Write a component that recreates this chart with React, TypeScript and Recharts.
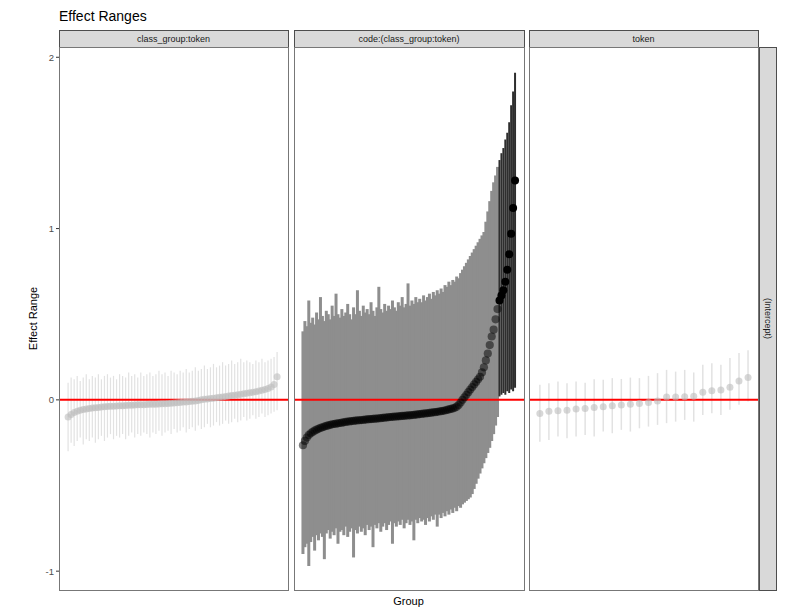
import { ScatterChart, Scatter, XAxis, YAxis, ErrorBar, ReferenceLine } from "recharts";

const FONT = '"Liberation Sans", Arial, sans-serif';

// shared y scale for all three facets
const yTicks = [-1, 0, 1, 2];
const yDomain = [-1.11, 2.06];

const facetLabels = ["class_group:token", "code:(class_group:token)", "token"];
const rowLabel = "(Intercept)";

// class_group:token
const classGroupEst = [
  -0.1, -0.085, -0.074, -0.066, -0.06, -0.056, -0.053, -0.05, -0.048, -0.046,
  -0.044, -0.042, -0.04, -0.039, -0.038, -0.037, -0.036, -0.035, -0.034, -0.033,
  -0.032, -0.031, -0.03, -0.029, -0.029, -0.028, -0.027, -0.026, -0.025, -0.025,
  -0.024, -0.023, -0.022, -0.021, -0.02, -0.018, -0.017, -0.015, -0.013, -0.012,
  -0.01, -0.008, -0.006, -0.003, 0.0, 0.003, 0.005, 0.008, 0.01, 0.012,
  0.015, 0.017, 0.019, 0.022, 0.025, 0.027, 0.03, 0.033, 0.035, 0.038,
  0.041, 0.045, 0.048, 0.052, 0.056, 0.061, 0.067, 0.075, 0.09, 0.135,
];
const classGroupHi = [
  0.1, 0.13, 0.12, 0.14, 0.11, 0.13, 0.15, 0.12, 0.14, 0.13,
  0.15, 0.12, 0.14, 0.15, 0.13, 0.14, 0.12, 0.15, 0.14, 0.13,
  0.16, 0.14, 0.15, 0.13, 0.16, 0.14, 0.15, 0.16, 0.14, 0.15,
  0.17, 0.15, 0.16, 0.14, 0.17, 0.16, 0.15, 0.17, 0.16, 0.18,
  0.16, 0.17, 0.19, 0.17, 0.18, 0.2, 0.18, 0.19, 0.21, 0.19,
  0.2, 0.22, 0.2, 0.21, 0.23, 0.21, 0.22, 0.24, 0.22, 0.23,
  0.22, 0.21, 0.23, 0.22, 0.24, 0.22, 0.23, 0.24, 0.25, 0.28,
];
const classGroupLo = [
  -0.3, -0.25, -0.27, -0.24, -0.22, -0.26, -0.23, -0.24, -0.22, -0.25,
  -0.23, -0.21, -0.24, -0.22, -0.2, -0.23, -0.21, -0.22, -0.2, -0.23,
  -0.21, -0.19, -0.22, -0.2, -0.21, -0.19, -0.2, -0.22, -0.19, -0.2,
  -0.18, -0.21, -0.19, -0.18, -0.2, -0.17, -0.19, -0.18, -0.16, -0.19,
  -0.17, -0.16, -0.18, -0.15, -0.17, -0.16, -0.14, -0.16, -0.15, -0.13,
  -0.15, -0.14, -0.12, -0.14, -0.13, -0.11, -0.13, -0.12, -0.1, -0.12,
  -0.11, -0.09, -0.11, -0.1, -0.08, -0.1, -0.09, -0.08, -0.07, -0.06,
];

// code:(class_group:token)
const codeEst = [
  -0.265, -0.24, -0.22, -0.205, -0.195, -0.187, -0.18, -0.174, -0.169, -0.164,
  -0.16, -0.156, -0.152, -0.149, -0.146, -0.143, -0.141, -0.139, -0.137, -0.135,
  -0.133, -0.131, -0.129, -0.127, -0.126, -0.124, -0.123, -0.121, -0.12, -0.119,
  -0.118, -0.117, -0.115, -0.114, -0.113, -0.112, -0.111, -0.11, -0.109, -0.108,
  -0.107, -0.105, -0.104, -0.103, -0.101, -0.1, -0.099, -0.098, -0.097, -0.096,
  -0.095, -0.094, -0.093, -0.092, -0.091, -0.09, -0.089, -0.088, -0.086, -0.085,
  -0.083, -0.082, -0.08, -0.079, -0.078, -0.076, -0.075, -0.073, -0.072, -0.07,
  -0.068, -0.066, -0.064, -0.062, -0.059, -0.056, -0.053, -0.05, -0.046, -0.04,
  -0.03, -0.016, 0.0, 0.015, 0.03, 0.045, 0.06, 0.075, 0.09, 0.105,
  0.12, 0.135, 0.16, 0.19, 0.23, 0.27, 0.32, 0.37, 0.41, 0.47,
  0.53, 0.58, 0.61, 0.64, 0.69, 0.76, 0.85, 0.97, 1.12, 1.28,
];
const codeHi = [
  0.4, 0.46, 0.43, 0.58, 0.45, 0.48, 0.44, 0.51, 0.47, 0.6,
  0.49, 0.46, 0.52, 0.5, 0.47, 0.55, 0.49, 0.62, 0.5, 0.48,
  0.53, 0.49, 0.51, 0.56, 0.5, 0.47, 0.54, 0.5, 0.64, 0.52,
  0.49, 0.55, 0.51, 0.53, 0.5, 0.57, 0.52, 0.49, 0.54, 0.66,
  0.53, 0.51, 0.56, 0.52, 0.55, 0.53, 0.58, 0.54, 0.52, 0.57,
  0.55, 0.6, 0.54, 0.56, 0.68, 0.55, 0.58, 0.56, 0.6, 0.57,
  0.59, 0.57, 0.61, 0.58, 0.6, 0.62, 0.59, 0.63, 0.61, 0.64,
  0.62, 0.65, 0.63, 0.67, 0.66, 0.69, 0.67, 0.7, 0.69, 0.72,
  0.71, 0.74, 0.76, 0.78, 0.8, 0.82, 0.84, 0.86, 0.88, 0.9,
  0.92, 0.94, 0.96, 0.98, 1.04, 1.1, 1.16, 1.22, 1.27, 1.31,
  1.36, 1.4, 1.44, 1.47, 1.52, 1.56, 1.62, 1.72, 1.8, 1.91,
];
const codeLo = [
  -0.9, -0.86, -0.84, -0.97, -0.83, -0.8, -0.88, -0.79, -0.82, -0.78,
  -0.8, -0.93, -0.78, -0.76, -0.81, -0.77, -0.79, -0.75, -0.84, -0.77,
  -0.76, -0.79, -0.74, -0.8, -0.77, -0.75, -0.92, -0.76, -0.78, -0.74,
  -0.77, -0.75, -0.79, -0.73, -0.76, -0.74, -0.86, -0.73, -0.75, -0.72,
  -0.77, -0.74, -0.72, -0.76, -0.73, -0.71, -0.84, -0.72, -0.74, -0.71,
  -0.73, -0.7, -0.75, -0.72, -0.7, -0.73, -0.71, -0.82, -0.7, -0.72,
  -0.69, -0.71, -0.7, -0.73, -0.69, -0.71, -0.68, -0.7, -0.67, -0.74,
  -0.67, -0.69, -0.66, -0.68, -0.65, -0.67, -0.64, -0.66, -0.63, -0.65,
  -0.62, -0.63, -0.61, -0.6, -0.59, -0.58, -0.57, -0.55, -0.52, -0.49,
  -0.46, -0.43, -0.4, -0.37, -0.34, -0.31, -0.28, -0.24, -0.2, -0.15,
  -0.1, 0.02, 0.03, 0.04, 0.03, 0.05, 0.04, 0.06, 0.05, 0.07,
];

// token
const tokenEst = [
  -0.08, -0.066, -0.064, -0.061, -0.053, -0.05, -0.044, -0.04, -0.034, -0.03, -0.026, -0.021,
  -0.016, -0.006, 0.016, 0.017, 0.018, 0.021, 0.045, 0.053, 0.058, 0.074, 0.11, 0.13,
];
const tokenHi = [
  0.088, 0.097, 0.107, 0.097, 0.107, 0.1, 0.12, 0.118, 0.127, 0.122, 0.13, 0.127,
  0.14, 0.156, 0.175, 0.165, 0.175, 0.16, 0.205, 0.214, 0.205, 0.244, 0.273, 0.29,
];
const tokenLo = [
  -0.244, -0.234, -0.214, -0.224, -0.214, -0.205, -0.214, -0.185, -0.195, -0.175, -0.185, -0.166,
  -0.156, -0.146, -0.136, -0.127, -0.117, -0.127, -0.088, -0.078, -0.088, -0.058, -0.029, -0.01,
];

type Row = { i: number; est: number; lo: number; err: [number, number] };

const toRows = (est: number[], lo: number[], hi: number[]): Row[] =>
  est.map((e, i) => ({ i, est: e, lo: lo[i], err: [e - lo[i], hi[i] - e] }));

const classGroupRows = toRows(classGroupEst, classGroupLo, classGroupHi);
const codeRows = toRows(codeEst, codeLo, codeHi);
const tokenRows = toRows(tokenEst, tokenLo, tokenHi);

const dot = (r: number, fill: string, opacity: number) => (p: any) =>
  <circle cx={p.cx} cy={p.cy} r={r} fill={fill} fillOpacity={opacity} />;

const PLOT_TOP = 47;
const PLOT_H = 543;

function Facet({
  left,
  width,
  xDomain,
  axis,
  children,
}: {
  left: number;
  width: number;
  xDomain: number[];
  axis?: boolean;
  children: any;
}) {
  return (
    <div style={{ position: "absolute", left, top: PLOT_TOP }}>
      <ScatterChart width={width} height={PLOT_H} margin={{ top: 0, right: 0, bottom: 0, left: 0 }}>
        <XAxis type="number" dataKey="i" domain={xDomain} hide />
        <YAxis
          type="number"
          dataKey="est"
          domain={yDomain}
          ticks={yTicks}
          hide={!axis}
          width={59}
          axisLine={false}
          tickLine={{ stroke: "#333" }}
          tickSize={3}
          tickMargin={2}
          tick={{ fontSize: 9.5, fill: "#4d4d4d", fontFamily: FONT }}
        />
        {children}
        <ReferenceLine y={0} stroke="#ff0000" strokeWidth={2} />
      </ScatterChart>
    </div>
  );
}

export default function App() {
  const panelX = [59, 294, 529];
  const panelW = [229, 230, 229];
  const bottom = PLOT_TOP + PLOT_H;

  return (
    <div style={{ position: "absolute", left: 0, top: 0, width: 790, height: 608, background: "#fff", fontFamily: FONT }}>
      <Facet left={0} width={288} xDomain={[-3, 72.6]} axis>
        <Scatter data={classGroupRows} isAnimationActive={false} shape={dot(3.5, "#bdbdbd", 0.6)}>
          <ErrorBar dataKey="err" direction="y" width={0} stroke="#e2e2e2" strokeWidth={1.2} isAnimationActive={false} />
        </Scatter>
      </Facet>

      <Facet left={294} width={230} xDomain={[-4.6, 113.6]}>
        <Scatter
          data={codeRows.filter((r) => r.lo <= 0)}
          isAnimationActive={false}
          shape={dot(4.1, "#000", 0.5)}
        >
          <ErrorBar dataKey="err" direction="y" width={0} stroke="#8e8e8e" strokeWidth={3} isAnimationActive={false} />
        </Scatter>
        <Scatter
          data={codeRows.filter((r) => r.lo > 0)}
          isAnimationActive={false}
          shape={dot(4, "#000", 1)}
        >
          <ErrorBar dataKey="err" direction="y" width={0} stroke="#2e2e2e" strokeWidth={2} isAnimationActive={false} />
        </Scatter>
      </Facet>

      <Facet left={529} width={229} xDomain={[-1.2, 24.1]}>
        <Scatter data={tokenRows} isAnimationActive={false} shape={dot(3.5, "#bdbdbd", 0.6)}>
          <ErrorBar dataKey="err" direction="y" width={0} stroke="#e2e2e2" strokeWidth={1.5} isAnimationActive={false} />
        </Scatter>
      </Facet>

      <svg width={790} height={608} style={{ position: "absolute", left: 0, top: 0, pointerEvents: "none" }}>
        <text x={59} y={21} fontSize={14} fill="#000" fontFamily={FONT}>
          Effect Ranges
        </text>

        {facetLabels.map((label, k) => (
          <g key={label}>
            <rect x={panelX[k] + 0.5} y={30.5} width={panelW[k]} height={17} fill="#d9d9d9" stroke="#4d4d4d" />
            <text
              x={panelX[k] + panelW[k] / 2}
              y={42}
              fontSize={9}
              fill="#1a1a1a"
              textAnchor="middle"
              fontFamily={FONT}
            >
              {label}
            </text>
            <rect
              x={panelX[k] + 0.5}
              y={PLOT_TOP + 0.5}
              width={panelW[k]}
              height={PLOT_H}
              fill="none"
              stroke="#777"
            />
          </g>
        ))}

        <rect x={759.5} y={PLOT_TOP + 0.5} width={17} height={PLOT_H} fill="#d9d9d9" stroke="#4d4d4d" />
        <text
          x={0}
          y={0}
          fontSize={9}
          fill="#1a1a1a"
          textAnchor="middle"
          fontFamily={FONT}
          transform={`translate(765, ${PLOT_TOP + PLOT_H / 2}) rotate(90)`}
        >
          {rowLabel}
        </text>

        <text
          x={0}
          y={0}
          fontSize={11}
          fill="#000"
          textAnchor="middle"
          fontFamily={FONT}
          transform={`translate(37, ${PLOT_TOP + PLOT_H / 2}) rotate(-90)`}
        >
          Effect Range
        </text>
        <text x={408.5} y={bottom + 15} fontSize={11} fill="#000" textAnchor="middle" fontFamily={FONT}>
          Group
        </text>
      </svg>
    </div>
  );
}
